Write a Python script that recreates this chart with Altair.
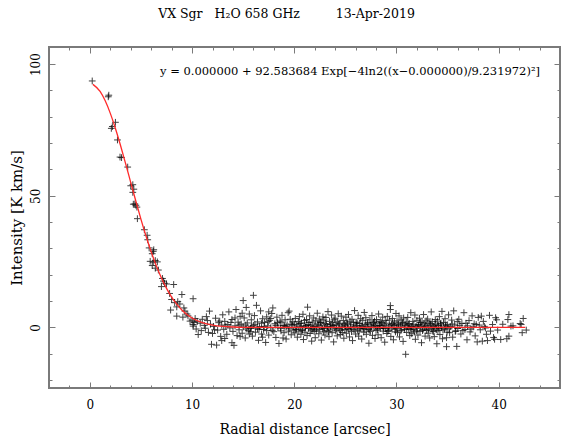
import altair as alt
import pandas as pd

# ---- data -------------------------------------------------------------
pts_core = [(0.23,93.6),(1.8,87.6),(1.85,88.2),(2.1,75.6),(2.2,76.3),(2.5,77.9),(2.7,71.2),
    (2.95,64.7),(3.1,64.5),(3.7,60.9),(4.0,53.8),(4.2,54.2),(4.3,52.5),(4.2,51.3),(4.25,46.8),
    (4.4,46.9),(4.5,46.4),(4.6,45.7),(4.65,41.3),(5.33,37.1),(5.6,35.0),(5.66,33.3),(5.8,30.2),
    (6.1,28.0),(6.2,28.9),(6.25,29.5),(5.9,25.1),(6.2,24.8),(6.4,25.4),(6.6,24.9),(6.1,23.5),
    (6.4,22.5),(6.7,21.8),(7.1,18.6),(7.2,17.6),(7.3,16.8),(7.0,15.5),(7.5,16.5),(8.2,16.3),
    (7.8,12.9),(9.0,12.5),(8.0,10.6),(8.3,9.4),(8.5,7.8),(7.9,6.6),(9.2,7.4),(8.5,4.3),(8.6,9.8),
    (8.8,8.9),(9.3,6.2),(9.5,5.1),(9.8,2.4),(10.1,10.9),(10.1,1.1),(9.6,4.4),(9.1,3.9)]

pts_10_20 = [(10.0,2.8),(10.2,1.9),(10.3,3.4),(10.1,0.5),(10.4,-0.6),(10.6,-2.7),(10.5,2.2),
    (10.8,1.6),(10.9,-1.2),(11.0,3.1),(11.2,0.8),(11.3,-0.3),(11.5,2.6),(11.7,6.2),(11.6,-1.9),
    (11.9,-6.4),(11.8,1.2),(12.0,-2.3),(12.1,0.4),(12.3,3.5),(12.4,-6.7),(12.5,-1.0),(12.6,1.8),
    (12.8,-3.4),(12.9,0.9),(13.0,4.8),(13.1,-0.7),(13.2,2.3),(13.4,-2.6),(13.5,1.1),(13.6,5.9),
    (13.7,-0.2),(13.9,-5.8),(13.9,3.0),(14.0,-1.5),(14.1,-6.8),(14.2,0.6),(14.3,6.8),(14.4,-3.1),
    (14.5,2.0),(14.6,-0.9),(14.7,4.2),(14.8,1.3),(14.9,-2.2),(15.0,10.2),(15.0,0.2),(15.1,3.6),
    (15.2,-4.0),(15.3,7.6),(15.4,1.7),(15.5,-1.1),(15.6,5.1),(15.7,-0.4),(15.8,2.9),(15.9,-3.3),
    (16.0,12.2),(16.0,0.8),(16.1,4.5),(16.2,-1.8),(16.3,8.4),(16.4,2.1),(16.5,-4.9),(16.6,0.3),
    (16.7,6.3),(16.8,-2.5),(16.9,3.3),(17.0,-0.8),(17.1,1.9),(17.2,-5.7),(17.3,4.0),(17.4,0.6),
    (17.5,-2.9),(17.6,2.7),(17.7,-0.1),(17.8,5.3),(17.9,7.4),(18.0,-1.6),(18.1,1.4),(18.2,-3.8),
    (18.3,3.9),(18.4,0.0),(18.5,-6.1),(18.6,2.4),(18.7,-1.3),(18.8,4.6),(18.9,0.7),(19.0,-2.0),
    (19.1,2.9),(19.2,-4.4),(19.3,1.0),(19.4,5.6),(19.5,-0.5),(19.6,3.1),(19.7,-2.8),(19.8,0.9),
    (19.9,-1.0),(12.2,-0.9),(12.7,2.4),(13.3,0.5),(13.8,1.9),(14.2,3.6),(14.6,0.9),(15.3,-0.6),
    (15.8,0.4),(16.4,-0.5),(16.8,1.6),(17.3,-1.2),(17.7,3.4),(18.2,0.8),(18.7,2.0),(19.2,0.3),
    (19.7,1.3),(13.2,-4.2),(14.9,5.4),(16.9,-3.7),(18.9,-4.0),(19.5,6.2),(17.5,5.9),(15.6,-2.5),
    (11.4,4.1),(12.9,-5.0),(14.7,-3.5)]

pts_20_28 = [(20.0,1.2),(20.05,-2.1),(20.1,3.4),(20.2,-0.6),(20.25,0.9),(20.3,-3.7),(20.4,2.2),
    (20.45,-1.4),(20.5,4.1),(20.6,0.3),(20.65,-2.6),(20.7,1.7),(20.8,-0.9),(20.85,5.0),(20.9,-4.6),
    (20.95,0.5),(21.0,2.6),(21.05,-1.8),(21.1,0.1),(21.2,3.0),(21.25,-3.1),(21.3,7.7),(21.35,1.1),
    (21.4,-0.4),(21.5,4.4),(21.55,-2.3),(21.6,0.8),(21.7,-5.2),(21.75,2.0),(21.8,-0.7),(21.9,3.6),
    (21.95,-1.5),(22.0,0.4),(22.05,-3.9),(22.1,2.5),(22.2,-0.2),(22.25,5.4),(22.3,1.3),(22.4,-2.4),
    (22.45,3.2),(22.5,-0.8),(22.6,1.9),(22.65,-4.8),(22.7,0.6),(22.8,4.0),(22.85,-1.7),(22.9,2.8),
    (22.95,-0.3),(23.0,-2.9),(23.05,1.5),(23.1,3.8),(23.2,-1.2),(23.25,0.2),(23.3,6.0),(23.4,-3.5),
    (23.45,2.3),(23.5,-0.6),(23.6,1.0),(23.65,4.7),(23.7,-2.0),(23.8,0.7),(23.85,-5.5),(23.9,2.9),
    (23.95,-0.1),(24.0,3.5),(24.05,-1.3),(24.1,0.9),(24.2,-3.2),(24.25,2.1),(24.3,5.2),(24.4,-0.5),
    (24.45,1.6),(24.5,-2.7),(24.6,4.3),(24.65,0.0),(24.7,-1.9),(24.8,2.6),(24.85,-4.1),(24.9,1.2),
    (24.95,-0.8),(25.0,0.6),(25.05,3.9),(25.1,-2.2),(25.2,1.4),(25.25,-0.4),(25.3,4.9),(25.4,-3.6),
    (25.45,2.4),(25.5,0.1),(25.6,-1.6),(25.65,3.1),(25.7,-5.0),(25.8,1.8),(25.85,-0.9),(25.9,6.4),
    (25.95,0.3),(26.0,-2.5),(26.05,2.0),(26.1,0.8),(26.2,-1.0),(26.25,4.6),(26.3,-3.3),(26.4,1.5),
    (26.45,-0.3),(26.5,3.3),(26.6,-4.4),(26.65,0.5),(26.7,2.7),(26.8,-1.8),(26.85,5.7),(26.9,-0.6),
    (26.95,1.1),(27.0,3.7),(27.05,-2.6),(27.1,0.2),(27.2,1.9),(27.25,-0.7),(27.3,-6.0),(27.4,2.9),
    (27.45,-1.5),(27.5,0.9),(27.6,4.5),(27.65,-3.0),(27.7,1.3),(27.8,-0.2),(27.85,2.4),(27.9,-4.2),
    (27.95,0.7)]

pts_28_36 = [(28.0,-1.1),(28.05,3.0),(28.1,0.4),(28.2,-2.8),(28.25,5.1),(28.3,1.7),(28.4,-0.4),
    (28.45,2.2),(28.5,-3.9),(28.6,0.6),(28.65,3.9),(28.7,-1.4),(28.8,1.0),(28.85,-5.6),(28.9,2.6),
    (28.95,-0.5),(29.0,1.6),(29.05,-2.3),(29.1,4.2),(29.2,0.0),(29.25,-1.2),(29.3,2.8),(29.4,8.3),
    (29.4,6.8),(29.45,-3.4),(29.5,1.1),(29.55,-0.6),(29.6,3.4),(29.7,-4.7),(29.75,0.8),(29.8,2.0),
    (29.9,-1.7),(29.95,5.3),(30.0,-0.3),(30.05,2.5),(30.1,-2.0),(30.2,1.2),(30.25,4.4),(30.3,-3.6),
    (30.4,0.5),(30.45,2.9),(30.5,-1.0),(30.6,1.8),(30.65,-5.3),(30.7,3.6),(30.8,-0.8),(30.85,0.9),
    (30.9,-10.2),(30.95,2.1),(31.0,-1.9),(31.05,0.6),(31.1,3.8),(31.2,-0.4),(31.25,1.5),(31.3,-3.1),
    (31.4,5.6),(31.45,0.2),(31.5,-2.4),(31.6,2.3),(31.65,-0.9),(31.7,1.0),(31.8,4.7),(31.85,-4.5),
    (31.9,0.4),(31.95,-1.3),(32.0,2.7),(32.05,-0.2),(32.1,-2.9),(32.2,1.1),(32.25,3.5),(32.3,-1.5),
    (32.4,0.3),(32.45,-5.8),(32.5,2.0),(32.6,-0.7),(32.65,4.9),(32.7,1.4),(32.8,-3.3),(32.85,0.8),
    (32.9,2.5),(32.95,-1.1),(33.0,0.1),(33.05,3.2),(33.1,-2.2),(33.2,1.7),(33.25,-4.0),(33.3,0.9),
    (33.4,5.9),(33.45,-0.5),(33.5,2.2),(33.6,-1.6),(33.65,0.4),(33.7,-3.5),(33.8,3.0),(33.85,1.2),
    (33.9,-0.9),(33.95,-6.2),(34.0,2.4),(34.05,-1.2),(34.1,0.7),(34.2,4.1),(34.25,-2.7),(34.3,1.3),
    (34.4,-0.1),(34.45,6.1),(34.5,-4.3),(34.6,1.9),(34.7,-0.6),(34.75,3.3),(34.8,0.5),(34.9,-7.3),
    (34.95,-1.8),(35.0,1.0),(35.1,4.8),(35.2,-2.0),(35.3,0.3),(35.4,2.8),(35.5,-3.7),(35.6,6.3),
    (35.7,0.9),(35.8,-1.3),(35.9,-7.2),(35.95,2.2),(34.9,-3.9)]

pts_36_43 = [(36.0,-0.4),(36.1,3.1),(36.3,-2.5),(36.4,1.5),(36.6,5.6),(36.7,-0.8),(36.9,-4.7),
    (36.95,0.6),(37.1,2.6),(37.2,-1.7),(37.4,4.4),(37.5,0.2),(37.7,-3.2),(37.8,1.1),(37.9,-5.5),
    (38.0,3.8),(38.2,-0.9),(38.3,4.3),(38.4,-5.2),(38.5,2.3),(38.6,0.4),(38.8,-2.6),(38.9,-5.0),
    (39.1,4.6),(39.2,-1.4),(39.4,1.1),(39.5,-3.8),(39.6,-4.5),(39.7,3.7),(39.8,2.9),(39.9,-1.0),
    (40.2,-4.6),(40.4,1.2),(40.8,-4.3),(40.9,3.0),(41.0,4.9),(41.0,-3.3),(41.2,0.5),(41.4,0.6),
    (42.1,1.5),(42.2,1.1),(42.3,-2.0),(42.4,3.4),(42.7,-1.0)]

pts_dense = [(15.25,0.9),(15.75,-1.6),(16.15,1.2),(16.55,-0.7),(17.05,0.4),(17.45,2.2),(17.85,-1.1),
    (18.35,1.8),(18.65,-0.3),(19.05,0.6),(19.45,-1.4),(19.85,2.1),(20.15,-0.8),(20.55,1.5),
    (20.75,-1.2),(21.15,0.7),(21.45,1.9),(21.65,-1.0),(21.85,0.3),(22.15,-1.3),(22.35,0.9),
    (22.55,2.0),(22.75,-0.5),(23.15,1.1),(23.35,-1.6),(23.55,0.4),(23.75,1.8),(24.15,-0.6),
    (24.35,1.3),(24.55,-1.1),(24.75,0.5),(25.15,2.0),(25.35,-0.9),(25.55,1.0),(25.75,-0.2),
    (26.15,1.7),(26.35,-1.4),(26.55,0.6),(26.75,-0.5),(27.15,1.4),(27.35,-1.0),(27.55,0.2),
    (27.75,1.9),(28.15,-0.9),(28.35,0.8),(28.55,1.8),(28.75,-0.3),(29.15,-1.5),(29.35,0.6),
    (29.65,1.5),(29.85,-0.6),(30.15,0.9),(30.35,-1.3),(30.55,1.6),(30.75,-0.1),(31.15,1.2),
    (31.35,-0.8),(31.55,0.5),(31.75,-1.7),(32.15,0.8),(32.35,1.9),(32.55,-1.2),(32.75,0.2),
    (33.15,-0.7),(33.35,1.4),(33.55,-1.3),(33.75,0.6),(34.15,-0.4),(34.35,1.6),(34.55,-1.0),
    (34.85,0.9),(35.15,-0.5),(35.45,1.3),(35.75,-1.5),(36.2,0.8),(36.5,-1.2),(36.8,1.6),
    (37.3,-0.6),(37.6,1.4),(38.1,0.9),(38.7,-0.2)]

fit_x = [0.3, 1, 1.5, 2, 2.5, 3, 3.5, 4, 4.5, 5, 5.5, 6, 6.5, 7, 7.5, 8, 8.5, 9, 9.5, 10,
         11, 12, 13, 14, 15, 16, 18, 20, 25, 30, 35, 40, 42.6]
fit_y = [92.31, 89.62, 86.05, 81.29, 75.55, 69.09, 62.16, 55.02, 47.91, 41.05, 34.61, 28.70,
         23.42, 18.80, 14.85, 11.54, 8.82, 6.64, 4.91, 3.58, 1.81, 0.86, 0.38, 0.16, 0.06, 0.02,
         0.0, 0.0, 0.0, 0.0, 0.0, 0.0, 0.0]

x_major = [0, 10, 20, 30, 40]
x_minor = list(range(-4, 47, 2))
y_major = [0, 50, 100]
y_minor = list(range(-20, 107, 10))

NB = "\u00a0"
title_text = "VX Sgr" + NB * 3 + "H\u2082O 658 GHz" + NB * 9 + "13-Apr-2019"
eq_text = "y = 0.000000 + 92.583684 Exp[\u22124ln2((x\u22120.000000)/9.231972)\u00b2]"

# ---- build -------------------------------------------------------------
all_pts = pts_core + pts_10_20 + pts_20_28 + pts_28_36 + pts_36_43 + pts_dense
pts_df = pd.DataFrame(all_pts, columns=["x", "y"])
fit_df = pd.DataFrame({"x": fit_x, "y": fit_y})

FONT = "DejaVu Serif"
FRAME = "#7a7a7a"
xs = alt.Scale(domain=[-4, 46], nice=False, zero=False)
ys = alt.Scale(domain=[-23, 106.5], nice=False, zero=False)

def ax(orient, values, size, labels, title=None, **kw):
    return alt.Axis(orient=orient, values=values, tickSize=size, offset=-size,
                    domain=False, grid=False, labels=labels, title=title,
                    tickColor=FRAME, tickWidth=1, **kw)

cross = "M-1,0L1,0M0,-1L0,1"

points = alt.Chart(pts_df).mark_point(
    shape=cross, size=46, filled=False, stroke="black", strokeWidth=1, opacity=0.75
).encode(
    x=alt.X("x:Q", scale=xs, axis=ax("bottom", x_major, 6, True, "Radial distance [arcsec]",
                                     labelPadding=11, titlePadding=12, titleFontSize=14)),
    y=alt.Y("y:Q", scale=ys, axis=ax("left", y_major, 6, True, "Intensity [K km/s]",
                                     labelAngle=-90, labelAlign="center",
                                     labelBaseline="bottom", labelPadding=7, titlePadding=5,
                                     titleFontSize=15)),
)

line = alt.Chart(fit_df).mark_line(color="#ff2a2a", strokeWidth=1.3, interpolate="monotone").encode(
    x=alt.X("x:Q", scale=xs, axis=ax("bottom", x_minor, 3, False)),
    y=alt.Y("y:Q", scale=ys, axis=ax("left", y_minor, 3, False)),
)

top_major = alt.Chart(fit_df).mark_line(strokeOpacity=0).encode(
    x=alt.X("x:Q", scale=xs, axis=ax("top", x_major, 6, False)),
    y=alt.Y("y:Q", scale=ys, axis=ax("right", y_major, 6, False)),
)
top_minor = alt.Chart(fit_df).mark_line(strokeOpacity=0).encode(
    x=alt.X("x:Q", scale=xs, axis=ax("top", x_minor, 3, False)),
    y=alt.Y("y:Q", scale=ys, axis=ax("right", y_minor, 3, False)),
)

eq = alt.Chart(fit_df.head(1)).mark_text(
    text=eq_text, font=FONT, fontSize=11.5, color="black", align="center", baseline="middle"
).encode(x=alt.value(301), y=alt.value(25))

chart = alt.layer(points, line, top_major, top_minor, eq).resolve_axis(
    x="independent", y="independent"
).properties(
    width=511, height=341,
    background="white",
    title=alt.TitleParams(title_text, font=FONT, fontSize=12.5, fontWeight="normal",
                          color="black", anchor="middle", dx=-18, offset=26),
    autosize=alt.AutoSizeParams(type="none"),
    padding={"left": 49, "top": 47, "right": 5, "bottom": 53},
).configure_view(
    stroke=FRAME, strokeWidth=2
).configure_axis(
    labelFont=FONT, labelFontSize=12, labelColor="black",
    titleFont=FONT, titleFontSize=12, titleFontWeight="normal", titleColor="black",
)

chart.save("out.html", embed_options={"renderer": "svg", "actions": False})
